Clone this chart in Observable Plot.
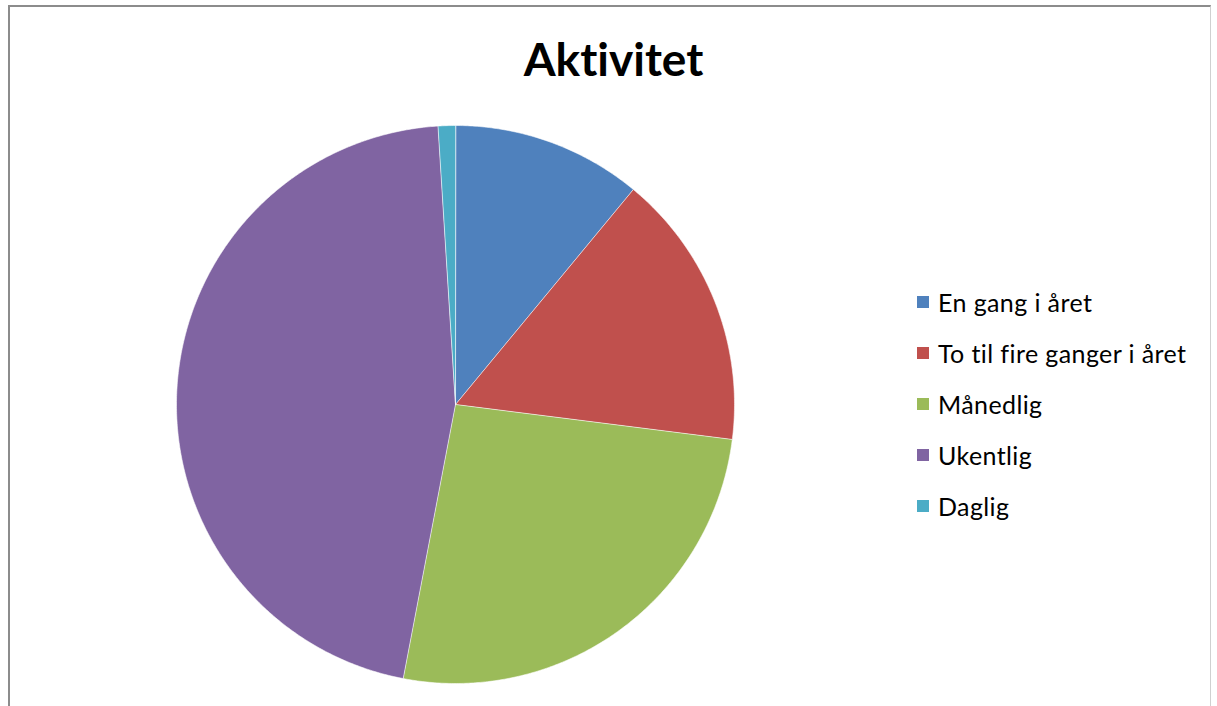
<!DOCTYPE html>
<html>
<head>
<meta charset="utf-8">
<script src="https://cdn.jsdelivr.net/npm/d3@7"></script>
<script src="https://cdn.jsdelivr.net/npm/@observablehq/plot@0.6"></script>
<style>
  html, body { margin: 0; padding: 0; background: #fff; overflow: hidden; width: 1217px; height: 706px; }
  #frame { position: absolute; left: 8px; top: 5px; width: 1203px; height: 740px;
           border-top: 2px solid #8c8c8c; border-left: 2px solid #8c8c8c; border-right: 1px solid #d0d0d0; box-sizing: border-box; }
  #chart { position: absolute; left: 0; top: 0; }
  #title { position: absolute; left: 0; width: 1227px; top: 31px; text-align: center;
           font-family: Lato, "Open Sans", sans-serif; font-weight: 700; font-size: 46px; color: #000;
           font-variant-ligatures: none; font-feature-settings: "liga" 0; }
  #legend { position: absolute; left: 917px; top: 276px; font-family: Lato, "Open Sans", sans-serif; font-size: 25px; color: #000;
            letter-spacing: 0.4px; font-variant-ligatures: none; font-feature-settings: "liga" 0; }
  .row { height: 51px; display: flex; align-items: center; }
  .sw { width: 12px; height: 12px; margin-right: 9px; flex: none; }
</style>
</head>
<body>
<div id="frame"></div>
<div id="chart"></div>
<div id="title">Aktivitet</div>
<div id="legend"></div>
<script>
const categories = ["En gang i året", "To til fire ganger i året", "Månedlig", "Ukentlig", "Daglig"];
const values = [11, 16, 26, 46, 1];
const colors = ["#4F81BD", "#C0504D", "#9BBB59", "#8064A2", "#4BACC6"];

const data = categories.map((c, i) => ({cat: c, value: values[i]}));
const arcs = d3.pie().sort(null).value(d => d.value)(data);

// Build slice outlines in unit-circle coordinates from the pie angles
const pts = [];
for (const a of arcs) {
  const cat = a.data.cat;
  pts.push({cat, x: 0, y: 0});
  const n = Math.max(2, Math.ceil((a.endAngle - a.startAngle) / (Math.PI / 360)));
  for (let k = 0; k <= n; k++) {
    const t = a.startAngle + (a.endAngle - a.startAngle) * k / n;
    pts.push({cat, x: Math.sin(t), y: Math.cos(t)});
  }
}

const cx = 455, cy = 404, r = 279;
const chart = Plot.plot({
  width: 1217,
  height: 706,
  margin: 0,
  x: {domain: [-1, 1], range: [cx - r, cx + r], axis: null},
  y: {domain: [-1, 1], range: [cy + r, cy - r], axis: null},
  color: {domain: categories, range: colors},
  marks: [
    Plot.line(pts, {x: "x", y: "y", z: "cat", fill: "cat", stroke: "#ffffff", strokeWidth: 0.8, strokeOpacity: 0.7, curve: "linear-closed"})
  ]
});
chart.style.background = "transparent";
document.getElementById("chart").appendChild(chart);

const legend = document.getElementById("legend");
categories.forEach((c, i) => {
  const row = document.createElement("div");
  row.className = "row";
  const sw = document.createElement("div");
  sw.className = "sw";
  sw.style.background = colors[i];
  const tx = document.createElement("span");
  tx.textContent = c;
  row.appendChild(sw);
  row.appendChild(tx);
  legend.appendChild(row);
});
</script>
</body>
</html>
